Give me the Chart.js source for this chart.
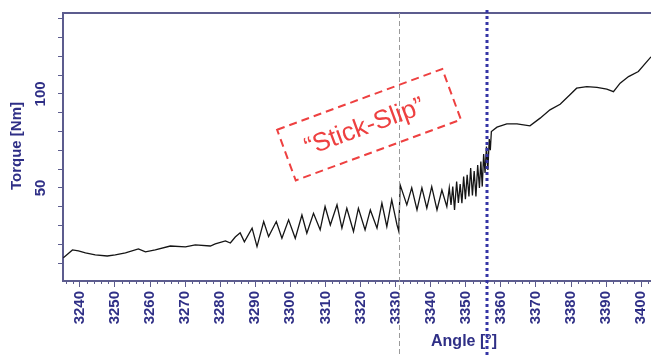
<!DOCTYPE html>
<html>
<head>
<meta charset="utf-8">
<script src="https://cdn.jsdelivr.net/npm/chart.js@4/dist/chart.umd.min.js"></script>
<style>
  html, body { margin: 0; padding: 0; background: #ffffff; }
  #c { display: block; }
</style>
</head>
<body>
<canvas id="c" width="651" height="355"></canvas>
<script>
// ---- data ----
const angles = [3235.3, 3237.9, 3239.6, 3241.6, 3244.4, 3247.8, 3250.1, 3253.0, 3256.7, 3258.7,
  3261.5, 3265.8, 3270.1, 3272.9, 3277.2, 3278.6, 3281.5, 3282.9, 3284.3, 3285.7,
  3286.9, 3289.1, 3290.5, 3292.4, 3293.8, 3296.0, 3297.6, 3299.5, 3301.4, 3303.3,
  3304.7, 3306.6, 3308.5, 3309.9, 3311.4, 3313.3, 3314.7, 3316.1, 3318.0, 3319.4,
  3321.3, 3322.8, 3324.7, 3326.1, 3327.5, 3328.9, 3330.4, 3330.9, 3331.3, 3333.2,
  3334.6, 3336.1, 3337.5, 3338.9, 3340.3, 3341.8, 3343.2,
  3344.6, 3345.3, 3345.8, 3346.3, 3346.8, 3347.4, 3347.9, 3348.4, 3348.9, 3349.4,
  3349.9, 3350.4, 3350.9, 3351.4, 3351.9, 3352.4, 3352.9, 3353.4, 3353.9, 3354.3,
  3354.7, 3355.1, 3355.5, 3355.9, 3356.3, 3356.7, 3357.0, 3357.3,
  3358.9, 3361.7, 3364.6, 3368.3, 3371.2, 3374.0, 3376.9, 3379.7, 3381.6, 3384.5,
  3387.4, 3390.2, 3392.1, 3394.0, 3396.4, 3399.2, 3402.8];
const torque = [12.8, 17.0, 16.5, 15.4, 14.4, 13.8, 14.4, 15.4, 17.6, 16.0,
  17.0, 19.1, 18.6, 19.7, 19.1, 20.2, 21.8, 20.7, 23.9, 26.1,
  21.3, 28.6, 18.8, 32.1, 24.1, 32.1, 23.2, 33.0, 23.2, 35.6,
  25.9, 36.5, 27.7, 40.1, 30.3, 41.0, 28.6, 39.2, 26.8, 39.2,
  27.7, 38.3, 28.6, 41.9, 29.4, 43.6, 30.3, 27.0, 51.6, 41.0,
  50.0, 38.3, 50.0, 39.2, 50.7, 38.3, 48.9,
  40.0, 50.0, 41.0, 50.7, 38.3, 53.4, 42.0, 52.0, 41.9, 56.0,
  44.0, 57.0, 45.4, 60.5, 46.0, 59.0, 45.4, 62.2, 50.0, 64.0,
  50.7, 68.0, 58.0, 72.0, 59.6, 76.0, 70.0, 80.0,
  82.3, 84.0, 84.0, 83.0, 87.1, 91.5, 94.5, 99.5, 103.0, 103.9,
  103.5, 102.5, 101.2, 105.7, 109.2, 111.9, 119.7];
const yLabelTicks = [50, 100];
const markerGray = 3331.0;
const markerBlue = 3356.1;
const annotationText = '\u201CStick-Slip\u201D';
const xTitle = 'Angle [\u00B0]';
const yTitle = 'Torque [Nm]';

// ---- styling ----
const LABEL = '#2f2f86';
const AXIS = '#5c5c8e';
const FONT = '"Liberation Sans", Arial, sans-serif';

const overlay = {
  id: 'overlay',
  afterDraw(chart) {
    const { ctx, chartArea: ca, scales: { x, y } } = chart;
    ctx.save();
    // top border
    ctx.strokeStyle = AXIS; ctx.lineWidth = 2;
    ctx.beginPath(); ctx.moveTo(ca.left - 1, ca.top); ctx.lineTo(651, ca.top); ctx.stroke();
    // minor x ticks every 2
    ctx.lineWidth = 1;
    for (let v = Math.ceil(x.min / 2) * 2; v <= x.max; v += 2) {
      if (v % 10 === 0) continue;
      const px = Math.round(x.getPixelForValue(v)) + 0.5;
      ctx.beginPath(); ctx.moveTo(px, ca.bottom); ctx.lineTo(px, ca.bottom + 3); ctx.stroke();
    }
    // y tick labels (rotated)
    ctx.fillStyle = LABEL;
    ctx.font = 'bold 15px ' + FONT;
    ctx.textAlign = 'center'; ctx.textBaseline = 'middle';
    yLabelTicks.forEach(v => {
      ctx.save();
      ctx.translate(41, y.getPixelForValue(v));
      ctx.rotate(-Math.PI / 2);
      ctx.fillText(String(v), 0, 0);
      ctx.restore();
    });
    // y title
    ctx.font = 'bold 15px ' + FONT;
    ctx.save();
    ctx.translate(17, 146);
    ctx.rotate(-Math.PI / 2);
    ctx.fillText(yTitle, 0, 0);
    ctx.restore();
    // x title
    ctx.font = 'bold 16px ' + FONT;
    ctx.fillText(xTitle, 464, 342);
    // gray dashed marker
    const gx = Math.round(x.getPixelForValue(markerGray)) + 0.5;
    ctx.strokeStyle = '#9a9a9a'; ctx.lineWidth = 1; ctx.setLineDash([5, 3]);
    ctx.beginPath(); ctx.moveTo(gx, ca.top); ctx.lineTo(gx, 355); ctx.stroke();
    // blue dotted marker
    const bx = Math.round(x.getPixelForValue(markerBlue));
    ctx.strokeStyle = '#3535a5'; ctx.lineWidth = 3; ctx.setLineDash([3, 3]);
    ctx.beginPath(); ctx.moveTo(bx, ca.top - 3); ctx.lineTo(bx, 355); ctx.stroke();
    // annotation
    ctx.save();
    ctx.translate(369, 124.7);
    ctx.rotate(-20.2 * Math.PI / 180);
    ctx.strokeStyle = '#ee4040'; ctx.lineWidth = 2; ctx.setLineDash([8, 5]);
    ctx.strokeRect(-88, -27, 176, 54);
    ctx.setLineDash([]);
    ctx.fillStyle = '#ee4040';
    ctx.font = '26px ' + FONT;
    ctx.fillText(annotationText, -5, 1);
    ctx.restore();
    ctx.restore();
  }
};

new Chart(document.getElementById('c'), {
  type: 'line',
  data: {
    datasets: [{
      data: angles.map((a, i) => ({ x: a, y: torque[i] })),
      borderColor: '#151515',
      borderWidth: 1.3,
      pointRadius: 0,
      tension: 0,
      fill: false
    }]
  },
  options: {
    responsive: false,
    animation: false,
    events: [],
    layout: { padding: { top: 13, left: 0, right: 0, bottom: 0 } },
    plugins: { legend: { display: false }, tooltip: { enabled: false } },
    scales: {
      x: {
        type: 'linear',
        min: 3235.2, max: 3402.8,
        border: { display: true, color: AXIS, width: 2 },
        grid: { display: true, drawOnChartArea: false, drawTicks: true, tickLength: 6, tickColor: AXIS, tickWidth: 1 },
        ticks: {
          stepSize: 10, autoSkip: false, includeBounds: false,
          minRotation: 90, maxRotation: 90, padding: 4,
          color: LABEL, font: { family: FONT, size: 15, weight: 'bold' },
          callback: v => String(v)
        },
        afterFit: s => { s.height = 74; s.paddingLeft = 0; s.paddingRight = 0; }
      },
      y: {
        min: 0.5, max: 143,
        border: { display: true, color: AXIS, width: 2 },
        grid: { display: true, drawOnChartArea: false, drawTicks: true, tickLength: 5, tickColor: AXIS, tickWidth: 1 },
        ticks: { stepSize: 10, includeBounds: false, display: false },
        afterFit: s => { s.width = 63; s.paddingTop = 0; s.paddingBottom = 0; }
      }
    }
  },
  plugins: [overlay]
});
</script>
</body>
</html>
